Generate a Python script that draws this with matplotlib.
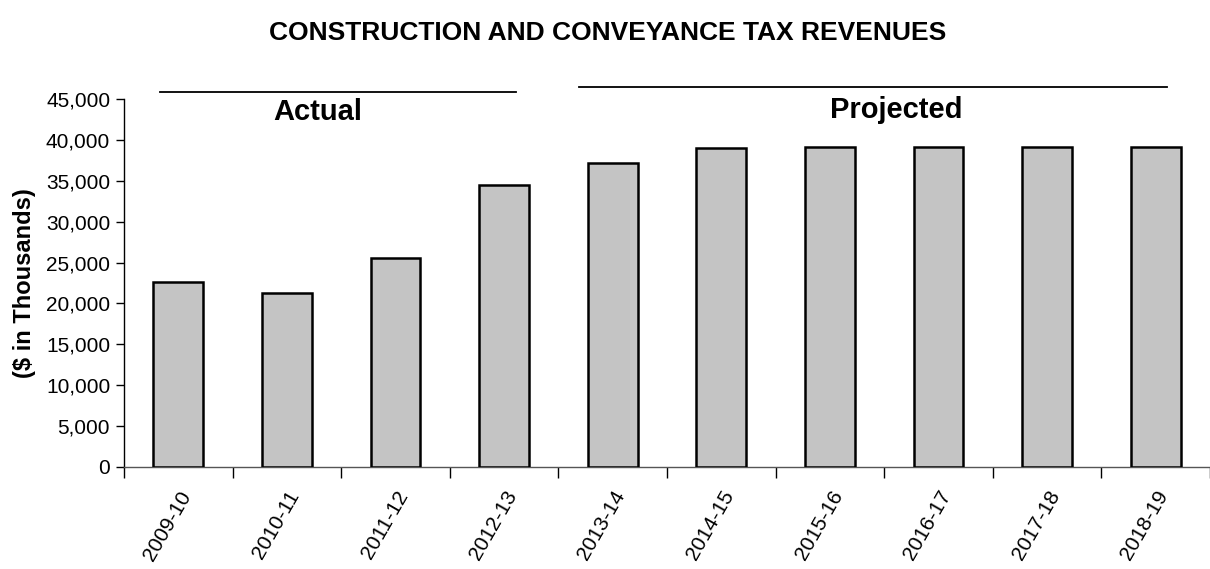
import matplotlib
matplotlib.use("Agg")
from matplotlib import pyplot as plt
from matplotlib.ticker import FuncFormatter, FixedLocator
from matplotlib.transforms import ScaledTranslation
import numpy as np

plt.rcParams['font.family'] = ['Liberation Sans', 'DejaVu Sans']

years = ['2009-10', '2010-11', '2011-12', '2012-13', '2013-14',
         '2014-15', '2015-16', '2016-17', '2017-18', '2018-19']
revenue = [22600, 21300, 25500, 34550, 37150, 39050, 39150, 39150, 39150, 39150]
n_actual = 4

fig = plt.figure(figsize=(12.1, 5.69), dpi=100)
ax = fig.add_axes([0.1025, 0.1798, 0.8975, 0.6457])

x = np.arange(len(years))
ax.bar(x, revenue, width=0.46, color='#c4c4c4', edgecolor='black', linewidth=1.8, zorder=3)

ax.set_xlim(-0.5, len(years) - 0.5)
ax.set_ylim(0, 45000)
ax.set_yticks(np.arange(0, 45001, 5000))
ax.yaxis.set_major_formatter(FuncFormatter(lambda v, p: f'{int(v):,}'))

# labels under bars, ticks between categories
ax.set_xticks(x)
ax.set_xticklabels(years, rotation=60, ha='right', va='top', rotation_mode='anchor', fontsize=15)
shift = ScaledTranslation(-0.07, 0, fig.dpi_scale_trans)
for lbl in ax.get_xticklabels():
    lbl.set_transform(lbl.get_transform() + shift)
ax.xaxis.set_minor_locator(FixedLocator(np.arange(-0.5, len(years), 1.0)))
ax.tick_params(axis='x', which='major', length=0, pad=15)
ax.tick_params(axis='x', which='minor', length=8, width=1, direction='out')
ax.tick_params(axis='y', length=6, width=1, labelsize=15, pad=4)

for s in ['top', 'right']:
    ax.spines[s].set_visible(False)
ax.spines['left'].set_linewidth(1)
ax.spines['bottom'].set_linewidth(1)
ax.spines['bottom'].set_color('#555555')

ax.set_ylabel('($ in Thousands)', fontsize=17, fontweight='bold', labelpad=7)

fig.text(0.502, 0.942, 'CONSTRUCTION AND CONVEYANCE TAX REVENUES',
         ha='center', va='center', fontsize=19, fontweight='bold')

# period brackets above the bars
ax.plot([-0.17, n_actual - 0.89], [45950, 45950], color='black', lw=1.3, clip_on=False)
ax.plot([n_actual - 0.31, len(years) - 0.9], [46550, 46550], color='black', lw=1.3, clip_on=False)
ax.text(1.28, 43400, 'Actual', ha='center', va='center', fontsize=21, fontweight='bold')
ax.text(6.61, 43650, 'Projected', ha='center', va='center', fontsize=21, fontweight='bold')

fig.savefig('out.png', dpi=100)
